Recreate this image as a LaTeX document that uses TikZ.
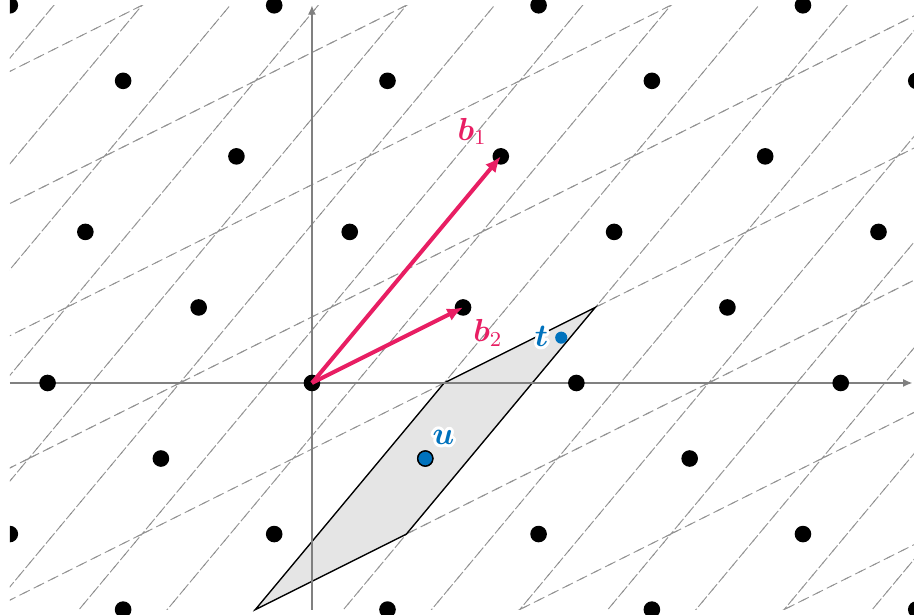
\documentclass[tikz,border=0pt]{standalone}
\usepackage{amsmath,amssymb}
\usepackage{contour}
\usepackage{tikz}
\usetikzlibrary{arrows.meta}
\contourlength{1.1pt}
\definecolor{vecpink}{RGB}{232,30,99}
\definecolor{ptblue}{RGB}{0,114,189}

\begin{document}
\begin{tikzpicture}[
  cell/.style={gray!85, dashed, line width=0.35pt},
  axis/.style={gray, line width=0.6pt, -{Latex[length=3.5pt,width=3pt]}},
  vec/.style={vecpink, line width=1.5pt, -{Latex[length=6pt,width=5pt]}},
  lab/.style={inner sep=0.5pt, font=\large}]
\useasboundingbox (-4.13,-3.06) rectangle (7.97,5.07);
\coordinate (o) at (0,0);
\coordinate (b1) at (2.5,3);
\coordinate (b2) at (2,1);
\coordinate (u) at (1.5,-1);
\coordinate (t) at (3.3,0.6);
% cells
\begin{scope}
\clip (-4,-3) rectangle (8,5);
\foreach \i in {-5,...,5}
  \foreach \j in {-17,...,19}
    \draw[cell] ({2.5*\i+2*\j-2.25},{3*\i+\j-2}) -- ++(2,1) -- ++(2.5,3) -- ++(-2,-1) -- cycle;
\end{scope}
\draw[fill=black!10, line width=0.5pt] (u) +(0.25,1) -- +(-2.25,-2) -- +(-0.25,-1) -- +(2.25,2) -- cycle;
\draw[axis] (-4,0) -- (7.95,0);
\draw[axis] (0,-3) -- (0,5);
% lattice points
\begin{scope}
\clip (-4,-3.2) rectangle (8.2,5.2);
\foreach \i in {-4,...,4}
  \foreach \j in {-15,...,17}
    \fill ({2.5*\i+2*\j},{3*\i+\j}) circle (0.11);
\end{scope}
\draw[vec] (o) -- (b1);
\draw[vec] (o) -- (b2);
\filldraw[fill=ptblue, draw=black, line width=0.5pt] (u) circle (0.1);
\fill[ptblue] (t) circle (0.08);
\node[lab, vecpink] (lb1) at (2.12,3.33) {$\boldsymbol{b}_1$};
\node[lab, vecpink] (lb2) at (2.33,0.66) {$\boldsymbol{b}_2$};
\node[lab, ptblue] (lt) at (3.04,0.6) {\contour{white}{$\boldsymbol{t}$}};
\node[lab, ptblue] (lu) at (1.74,-0.74) {\contour{white}{$\boldsymbol{u}$}};
\end{tikzpicture}
\end{document}
